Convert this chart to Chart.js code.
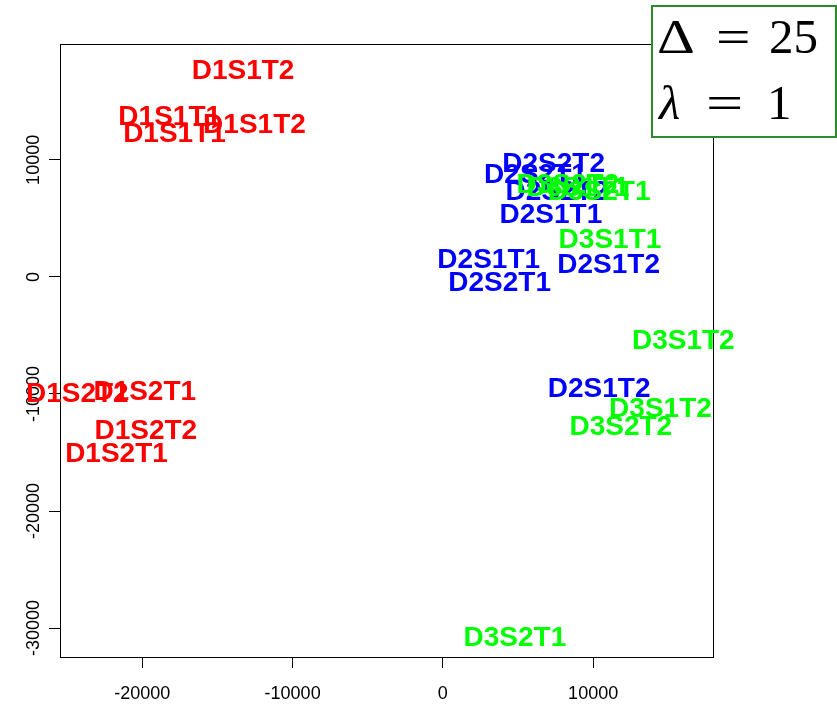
<!DOCTYPE html>
<html>
<head>
<meta charset="utf-8">
<script src="https://cdn.jsdelivr.net/npm/chart.js@4.4.1/dist/chart.umd.min.js"></script>
<style>
  html, body { margin: 0; padding: 0; background: #ffffff; }
  #wrap { width: 837px; height: 706px; position: relative; }
</style>
</head>
<body>
<div id="wrap"><canvas id="c" width="837" height="706"></canvas></div>
<script>
// Sample labels and their 2-D embedding coordinates, one group per D level
const d1Names = ['D1S1T2', 'D1S1T1', 'D1S1T1', 'D1S1T2', 'D1S2T2', 'D1S2T1', 'D1S2T2', 'D1S2T1'];
const d1X = [-13300, -18180, -17860, -12540, -24330, -19840, -19770, -21720];
const d1Y = [17720, 13800, 12400, 13190, -9820, -9700, -13010, -14970];

const d2Names = ['D2S2T2', 'D2S2T1', 'D2S2T2', 'D2S1T1', 'D2S1T1', 'D2S2T1', 'D2S1T2', 'D2S1T2'];
const d2X = [7370, 6160, 7590, 7190, 3050, 3780, 11030, 10400];
const d2Y = [9840, 8870, 7420, 5500, 1620, -380, 1200, -9390];

const d3Names = ['D3S2T2', 'D3S1T1', 'D3S2T1', 'D3S1T1', 'D3S1T2', 'D3S1T2', 'D3S2T2', 'D3S2T1'];
const d3X = [8320, 8990, 10400, 11120, 16000, 14480, 11840, 4790];
const d3Y = [8020, 7760, 7420, 3320, -5290, -11100, -12670, -30700];

// Axis ranges and tick values
const xRange = [-25480, 17976];
const yRange = [-32470, 19897];
const xTicks = [-20000, -10000, 0, 10000];
const yTicks = [-30000, -20000, -10000, 0, 10000];

const toPoints = (xs, ys) => xs.map((x, i) => ({ x: x, y: ys[i] }));

const labelFont = 'bold 28px "Liberation Sans", Arial, sans-serif';
const tickFont = '18px "Liberation Sans", Arial, sans-serif';
const mathFont = '49px "Liberation Serif", "Times New Roman", serif';

// Draws the plot frame, the tick labels, each point's text label and the parameter box
const textPlot = {
  id: 'textPlot',
  afterDraw(chart) {
    const ctx = chart.ctx;
    const a = chart.chartArea;
    const xs = chart.scales.x, ys = chart.scales.y;
    ctx.save();

    // frame
    ctx.strokeStyle = '#000';
    ctx.lineWidth = 1;
    ctx.strokeRect(Math.round(a.left) + 0.5, Math.round(a.top) + 0.5,
                   Math.round(a.right - a.left), Math.round(a.bottom - a.top));

    // tick labels
    ctx.fillStyle = '#000';
    ctx.font = tickFont;
    ctx.textAlign = 'center';
    ctx.textBaseline = 'alphabetic';
    xs.ticks.forEach(t => {
      ctx.fillText(String(t.value), xs.getPixelForValue(t.value), 699);
    });
    ys.ticks.forEach(t => {
      ctx.save();
      ctx.translate(39, ys.getPixelForValue(t.value));
      ctx.rotate(-Math.PI / 2);
      ctx.fillText(String(t.value), 0, 0);
      ctx.restore();
    });

    // point labels, centred on each point
    ctx.font = labelFont;
    ctx.textAlign = 'center';
    chart.data.datasets.forEach((ds, i) => {
      const meta = chart.getDatasetMeta(i);
      ctx.fillStyle = ds.textColor;
      meta.data.forEach((pt, j) => {
        ctx.fillText(ds.names[j], pt.x, pt.y + 10);
      });
    });

    // parameter box
    ctx.fillStyle = '#fff';
    ctx.fillRect(652, 6, 184, 131);
    ctx.strokeStyle = '#2a8c2a';
    ctx.lineWidth = 2;
    ctx.strokeRect(652, 6, 184, 131);

    const wide = (txt, x, y, sx) => {
      ctx.save();
      ctx.translate(x, y);
      ctx.scale(sx, 1);
      ctx.fillText(txt, 0, 0);
      ctx.restore();
    };

    ctx.fillStyle = '#000';
    ctx.textAlign = 'left';
    ctx.font = mathFont;
    wide('\u0394', 657, 53, 1.2);
    wide('=', 716, 53, 1.25);
    ctx.fillText('25', 769, 53);

    ctx.font = 'italic ' + mathFont;
    ctx.fillText('\u03bb', 659, 119);
    ctx.font = mathFont;
    wide('=', 706, 119, 1.35);
    ctx.fillText('1', 767, 119);

    ctx.restore();
  }
};

new Chart(document.getElementById('c'), {
  type: 'scatter',
  data: {
    datasets: [
      { names: d1Names, textColor: '#ff0000', data: toPoints(d1X, d1Y) },
      { names: d2Names, textColor: '#0000ff', data: toPoints(d2X, d2Y) },
      { names: d3Names, textColor: '#00ff00', data: toPoints(d3X, d3Y) }
    ]
  },
  options: {
    responsive: false,
    animation: false,
    devicePixelRatio: 1,
    layout: { padding: { top: 44, right: 124, bottom: 0, left: 0 } },
    elements: { point: { radius: 0, hoverRadius: 0 } },
    plugins: { legend: { display: false }, tooltip: { enabled: false } },
    events: [],
    scales: {
      x: {
        type: 'linear',
        min: xRange[0],
        max: xRange[1],
        afterBuildTicks: s => { s.ticks = xTicks.map(v => ({ value: v })); },
        afterFit: s => { s.height = 49; },
        ticks: { display: false },
        border: { display: false },
        grid: { drawOnChartArea: false, drawTicks: true, tickLength: 11, color: '#000', lineWidth: 1 }
      },
      y: {
        type: 'linear',
        min: yRange[0],
        max: yRange[1],
        afterBuildTicks: s => { s.ticks = yTicks.map(v => ({ value: v })); },
        afterFit: s => { s.width = 60; },
        ticks: { display: false },
        border: { display: false },
        grid: { drawOnChartArea: false, drawTicks: true, tickLength: 11, color: '#000', lineWidth: 1 }
      }
    }
  },
  plugins: [textPlot]
});
</script>
</body>
</html>
